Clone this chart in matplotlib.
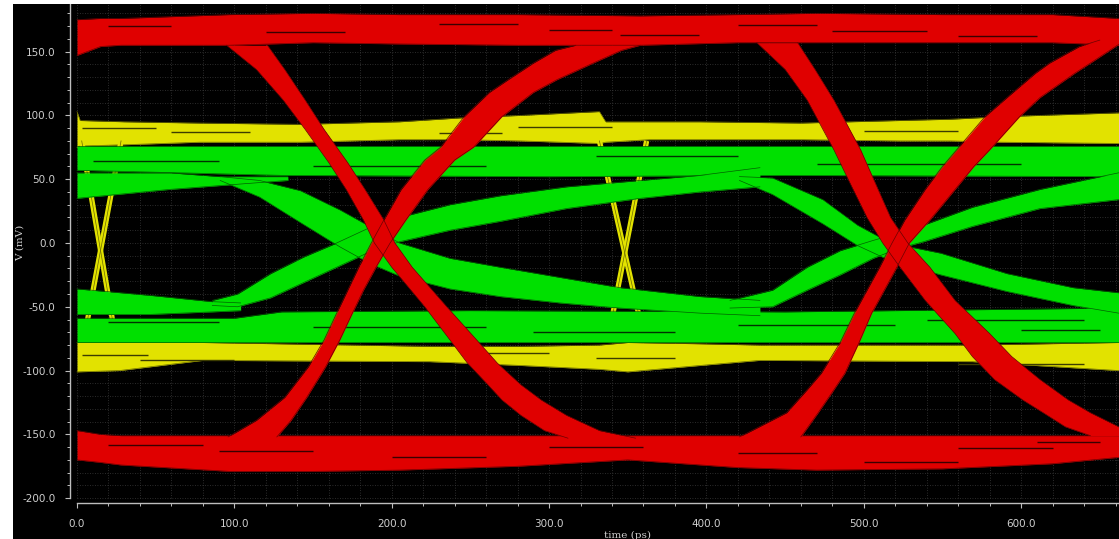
import numpy as np
import matplotlib
matplotlib.use("Agg")
import matplotlib.pyplot as plt
from matplotlib.patches import Rectangle
from matplotlib.ticker import MultipleLocator, FormatStrFormatter

plt.rcParams['axes.unicode_minus'] = False

# ==========================================
# EYE DATA (time in ps, voltage in mV)
# ==========================================
# --- red trace: steady levels
red_hi_t = [0, 15, 28, 97, 150, 205, 280, 358, 420, 470, 550, 620, 662]
red_hi_top = [175, 176, 176, 179, 180, 179, 179, 178, 179, 180, 179, 179, 176]
red_hi_bot = [147, 154, 155, 155, 157, 156, 155, 155, 157, 157, 157, 157, 155]
red_lo_t = [0, 15, 28, 97, 150, 205, 280, 350, 420, 470, 550, 620, 662]
red_lo_top = [-147, -150, -151, -151, -151, -151, -151, -151, -151, -151, -151, -151, -151]
red_lo_bot = [-170, -172, -174, -179, -179, -178, -175, -170, -176, -178, -177, -173, -168]

# --- red trace: transitions (left / right edge time at each voltage)
fall1_v = [155, 136, 112, 89, 63, 42, 18, 0, -19, -50, -76, -94, -111, -123, -135, -147, -153]
fall1_t0 = [95, 114, 131, 145, 160, 171, 182, 189, 200, 221, 237, 248, 261, 270, 282, 297, 312]
fall1_t1 = [121, 132, 145, 157, 172, 183, 195, 202, 213, 235, 254, 267, 282, 295, 311, 332, 355]

rise1_v = [-152, -139, -121, -97, -76, -55, -37, -19, 0, 18, 42, 65, 75, 99, 118, 128, 141, 151, 155]
rise1_t0 = [96, 114, 132, 147, 157, 165, 172, 179, 187, 195, 206, 221, 231, 246, 262, 274, 290, 304, 317]
rise1_t1 = [127, 136, 146, 158, 167, 175, 182, 190, 199, 209, 223, 240, 252, 270, 290, 305, 328, 346, 358]

fall2_v = [157, 136, 112, 73, 45, 20, 0, -19, -45, -71, -89, -107, -123, -133, -144, -151]
fall2_t0 = [432, 450, 464, 481, 492, 502, 512, 523, 539, 558, 569, 583, 601, 614, 628, 644]
fall2_t1 = [458, 469, 481, 498, 508, 517, 528, 542, 558, 580, 594, 612, 630, 644, 662, 666]

rise2_v = [-152, -133, -115, -102, -78, -55, -37, -19, 0, 18, 42, 60, 73, 99, 114, 133, 141, 154, 159]
rise2_t0 = [421, 451, 464, 473, 485, 494, 502, 510, 518, 526, 539, 550, 559, 577, 591, 609, 618, 637, 650]
rise2_t1 = [460, 471, 481, 488, 497, 505, 513, 521, 529, 542, 558, 570, 580, 599, 612, 634, 644, 660, 666]

# --- green trace: steady levels
grn_hi_t = [0, 130, 300, 450, 662]
grn_hi_top = [76, 76, 76, 76, 76]
grn_hi_bot = [57, 53, 52, 53, 52]
grn_lo_t = [0, 100, 130, 250, 450, 662]
grn_lo_top = [-59, -59, -54, -53, -54, -51]
grn_lo_bot = [-78, -78, -78, -78, -78, -78]

# --- green trace: slow transitions (upper / lower edge over time)
gtail_r_t = [0, 59, 91, 134]
gtail_r_hi = [55, 55, 52, 52]
gtail_r_lo = [35, 42, 45, 49]
gtail_f_t = [0, 46, 86, 104]
gtail_f_hi = [-36, -41, -46, -47]
gtail_f_lo = [-56, -56, -54, -53]

gfall1_t = [91, 116, 142, 167, 186, 205, 237, 269, 307, 345, 396, 434]
gfall1_hi = [52, 49, 41, 26, 13, 0, -12, -19, -27, -35, -42, -45]
gfall1_lo = [49, 36, 16, -3, -16, -26, -36, -42, -47, -51, -55, -57]

grise1_t = [86, 102, 123, 144, 165, 186, 205, 237, 269, 311, 358, 396, 434]
grise1_hi = [-45, -40, -24, -11, 0, 12, 20, 30, 37, 44, 49, 53, 59]
grise1_lo = [-49, -50, -43, -31, -19, -7, 1, 10, 17, 27, 35, 40, 44]

gfall2_t = [421, 442, 474, 496, 517, 549, 591, 633, 662]
gfall2_hi = [52, 51, 34, 14, 0, -8, -24, -35, -39]
gfall2_lo = [49, 38, 15, -2, -14, -25, -38, -49, -55]

grise2_t = [415, 442, 464, 485, 506, 523, 538, 569, 612, 662]
grise2_hi = [-45, -37, -19, -6, 2, 8, 14, 28, 42, 55]
grise2_lo = [-51, -50, -37, -25, -12, -4, 1, 13, 27, 34]

# --- yellow trace: steady levels
yel_hi_t = [0, 2, 30, 78, 142, 205, 243, 282, 332, 336, 364, 396, 460, 523, 555, 587, 662]
yel_hi_top = [103, 96, 95, 94, 93, 95, 98, 100, 103, 95, 95, 95, 94, 96, 97, 99, 102]
yel_hi_bot = [75, 76, 77, 79, 79, 81, 81, 80, 78, 79, 81, 81, 81, 80, 80, 79, 78]
yel_lo_t = [0, 27, 80, 224, 282, 332, 350, 396, 434, 569, 662]
yel_lo_top = [-78, -78, -78, -81, -81, -80, -78, -79, -80, -80, -78]
yel_lo_bot = [-101, -100, -92, -93, -96, -99, -101, -96, -92, -93, -100]

# --- yellow trace: fast edges (narrow X), start/end time at these voltages
yel_edge_v = [80, -78]
yel_edges_t = [[3, 25], [28, 4], [332, 361], [362, 337]]

# --- dark gaps between individual sweeps (voltage, start, end)
red_gap_v = [170, 165, 172, 167, 163, 171, 166, 162, -158, -163, -168, -160, -165, -172, -161, -156]
red_gap_t0 = [20, 120, 230, 300, 345, 420, 480, 560, 20, 90, 200, 300, 420, 500, 560, 610]
red_gap_t1 = [60, 170, 280, 340, 395, 470, 540, 610, 80, 150, 260, 360, 470, 560, 620, 650]
grn_gap_v = [64, 60, 68, 62, -62, -66, -70, -64, -60, -68]
grn_gap_t0 = [10, 150, 330, 470, 20, 150, 290, 420, 540, 600]
grn_gap_t1 = [90, 260, 420, 600, 90, 260, 380, 520, 640, 650]
yel_gap_v = [90, 87, 86, 91, 88, -88, -92, -86, -90, -95]
yel_gap_t0 = [3, 60, 230, 280, 500, 3, 40, 250, 330, 560]
yel_gap_t1 = [50, 110, 270, 340, 560, 45, 100, 300, 380, 640]

RED, RED_DK, RED_GAP = '#e00000', '#6a0000', '#3a0000'
GRN, GRN_DK, GRN_GAP = '#00e000', '#006000', '#003200'
YEL, YEL_DK, YEL_GAP = '#e2e200', '#6a6a00', '#3c3c00'
AX_COL = '#bdbdbd'
TXT_COL = '#cfcfcf'

# ==========================================
# FIGURE
# ==========================================
fig = plt.figure(figsize=(11.19, 5.39), dpi=100, facecolor='black')
fig.patches.append(Rectangle((0, 0), 13 / 1119, 1, transform=fig.transFigure,
                             facecolor='white', edgecolor='none', zorder=0))
fig.patches.append(Rectangle((0, 535 / 539), 1, 4 / 539, transform=fig.transFigure,
                             facecolor='white', edgecolor='none', zorder=0))

ax = fig.add_axes([70 / 1119, 36 / 539, 1049 / 1119, 499 / 539])
ax.set_facecolor('black')
ax.set_xlim(-4.45, 662.2)
ax.set_ylim(-203.8, 187.3)

# dotted grid at every minor division
ax.hlines(np.arange(-200, 181, 10), 0, 662.2, colors='#3a3a3a',
          linestyles=(0, (1, 2)), lw=0.6, zorder=0.5)
ax.vlines(np.arange(0, 661, 20), -200, 187.3, colors='#3a3a3a',
          linestyles=(0, (1, 2)), lw=0.6, zorder=0.5)


def band(t, lo, hi, color, dark, z):
    ax.fill_between(t, lo, hi, color=color, lw=0, zorder=z)
    ax.plot(t, lo, color=dark, lw=0.5, zorder=z + 0.1)
    ax.plot(t, hi, color=dark, lw=0.5, zorder=z + 0.1)


def edge(v, t0, t1, color, dark, z):
    ax.fill_betweenx(v, t0, t1, color=color, lw=0, zorder=z)
    ax.plot(t0, v, color=dark, lw=0.5, zorder=z + 0.1)
    ax.plot(t1, v, color=dark, lw=0.5, zorder=z + 0.1)


def gaps(v, t0, t1, dark, z):
    ax.hlines(v, t0, t1, colors=dark, lw=1.0, zorder=z)


# yellow (bottom layer)
band(yel_hi_t, yel_hi_bot, yel_hi_top, YEL, YEL_DK, 2)
band(yel_lo_t, yel_lo_bot, yel_lo_top, YEL, YEL_DK, 2)
gaps(yel_gap_v, yel_gap_t0, yel_gap_t1, YEL_GAP, 2.15)
for et in yel_edges_t:
    ax.plot(et, yel_edge_v, color=YEL, lw=3.8, solid_capstyle='butt', zorder=2.2)
    ax.plot(et, yel_edge_v, color=YEL_DK, lw=0.5, zorder=2.3)

# green
band(grn_hi_t, grn_hi_bot, grn_hi_top, GRN, GRN_DK, 3)
band(grn_lo_t, grn_lo_bot, grn_lo_top, GRN, GRN_DK, 3)
gaps(grn_gap_v, grn_gap_t0, grn_gap_t1, GRN_GAP, 3.15)
band(gtail_r_t, gtail_r_lo, gtail_r_hi, GRN, GRN_DK, 3.2)
band(gtail_f_t, gtail_f_lo, gtail_f_hi, GRN, GRN_DK, 3.2)
band(gfall1_t, gfall1_lo, gfall1_hi, GRN, GRN_DK, 3.2)
band(grise1_t, grise1_lo, grise1_hi, GRN, GRN_DK, 3.2)
band(gfall2_t, gfall2_lo, gfall2_hi, GRN, GRN_DK, 3.2)
band(grise2_t, grise2_lo, grise2_hi, GRN, GRN_DK, 3.2)

# red (top layer)
band(red_hi_t, red_hi_bot, red_hi_top, RED, RED_DK, 4)
band(red_lo_t, red_lo_bot, red_lo_top, RED, RED_DK, 4)
gaps(red_gap_v, red_gap_t0, red_gap_t1, RED_GAP, 4.15)
edge(fall1_v, fall1_t0, fall1_t1, RED, RED_DK, 4.2)
edge(rise1_v, rise1_t0, rise1_t1, RED, RED_DK, 4.2)
edge(fall2_v, fall2_t0, fall2_t1, RED, RED_DK, 4.2)
edge(rise2_v, rise2_t0, rise2_t1, RED, RED_DK, 4.2)

# axes styling
for side in ['top', 'right']:
    ax.spines[side].set_visible(False)
ax.spines['left'].set_color(AX_COL)
ax.spines['bottom'].set_color(AX_COL)
ax.spines['left'].set_linewidth(1.0)
ax.spines['bottom'].set_linewidth(1.0)
ax.spines['left'].set_bounds(-200, 187.3)
ax.spines['bottom'].set_bounds(0, 662.2)

ax.xaxis.set_major_locator(MultipleLocator(100))
ax.xaxis.set_minor_locator(MultipleLocator(20))
ax.yaxis.set_major_locator(MultipleLocator(50))
ax.yaxis.set_minor_locator(MultipleLocator(10))
ax.xaxis.set_major_formatter(FormatStrFormatter('%.1f'))
ax.yaxis.set_major_formatter(FormatStrFormatter('%.1f'))
ax.tick_params(which='major', direction='out', length=3.5, width=0.8,
               color=AX_COL, labelcolor=TXT_COL, labelsize=7.5)
ax.tick_params(which='minor', direction='out', length=2.2, width=0.7, color=AX_COL)
ax.tick_params(axis='y', which='major', pad=7)
ax.tick_params(axis='x', which='major', pad=8)

fig.text(20 / 1119, 1 - 243 / 539, 'V (mV)', rotation=90, ha='center', va='center',
         family='DejaVu Serif', size=7.5, color=TXT_COL)
fig.text(627 / 1119, 1 - 531 / 539, 'time (ps)', ha='center', va='top',
         family='DejaVu Serif', size=7.5, color=TXT_COL)

fig.savefig('out.png', dpi=100, facecolor=fig.get_facecolor())
